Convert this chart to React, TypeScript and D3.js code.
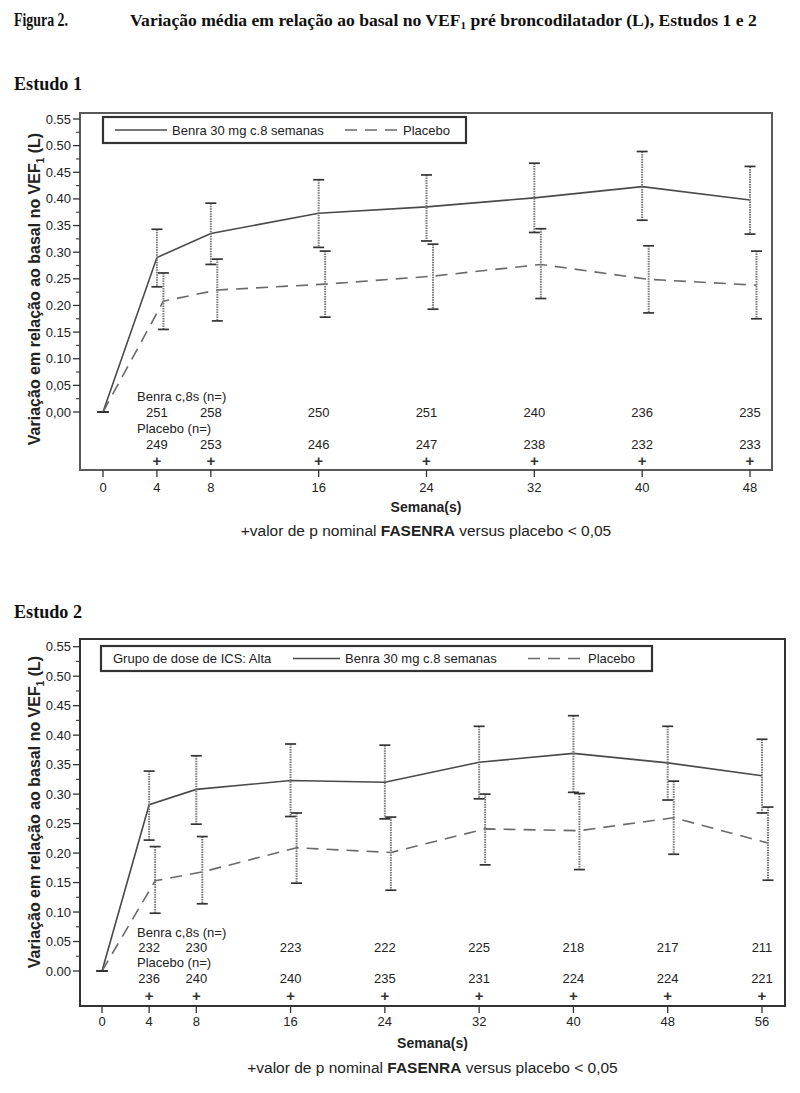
import React from 'react';
import * as d3 from 'd3';

// ---------- DATA ----------
const weeks1 = [0, 4, 8, 16, 24, 32, 40, 48];
const benra1Mean = [0, 0.29, 0.335, 0.373, 0.385, 0.402, 0.423, 0.398];
const benra1Lo = [0, 0.235, 0.277, 0.309, 0.321, 0.337, 0.36, 0.334];
const benra1Hi = [0, 0.343, 0.392, 0.436, 0.445, 0.467, 0.489, 0.461];
const placebo1Mean = [0, 0.208, 0.229, 0.24, 0.255, 0.277, 0.249, 0.238];
const placebo1Lo = [0, 0.155, 0.171, 0.178, 0.193, 0.213, 0.186, 0.175];
const placebo1Hi = [0, 0.261, 0.287, 0.302, 0.315, 0.344, 0.312, 0.302];
const nBenra1 = ['251', '258', '250', '251', '240', '236', '235'];
const nPlacebo1 = ['249', '253', '246', '247', '238', '232', '233'];
const yTickLabels1 = ['0,00', '0,05', '0.10', '0.15', '0.20', '0.25', '0.30', '0.35', '0.40', '0.45', '0.50', '0.55'];

const weeks2 = [0, 4, 8, 16, 24, 32, 40, 48, 56];
const benra2Mean = [0, 0.282, 0.308, 0.323, 0.32, 0.354, 0.369, 0.353, 0.331];
const benra2Lo = [0, 0.222, 0.249, 0.262, 0.258, 0.292, 0.303, 0.29, 0.268];
const benra2Hi = [0, 0.339, 0.365, 0.385, 0.383, 0.415, 0.433, 0.415, 0.393];
const placebo2Mean = [0, 0.153, 0.168, 0.209, 0.201, 0.241, 0.238, 0.26, 0.217];
const placebo2Lo = [0, 0.098, 0.114, 0.149, 0.137, 0.18, 0.172, 0.198, 0.154];
const placebo2Hi = [0, 0.211, 0.228, 0.268, 0.261, 0.3, 0.301, 0.322, 0.278];
const nBenra2 = ['232', '230', '223', '222', '225', '218', '217', '211'];
const nPlacebo2 = ['236', '240', '240', '235', '231', '224', '224', '221'];
const yTickLabels2 = ['0.00', '0.05', '0.10', '0.15', '0.20', '0.25', '0.30', '0.35', '0.40', '0.45', '0.50', '0.55'];

const yTickValues = [0, 0.05, 0.1, 0.15, 0.2, 0.25, 0.3, 0.35, 0.4, 0.45, 0.5, 0.55];
const yMinorValues = [0.025, 0.075, 0.125, 0.175, 0.225, 0.275, 0.325, 0.375, 0.425, 0.475, 0.525];

const labelBenraN = 'Benra c,8s (n=)';
const labelPlaceboN = 'Placebo (n=)';
const legendBenra = 'Benra 30 mg c.8 semanas';
const legendPlacebo = 'Placebo';
const legendGroup = 'Grupo de dose de ICS: Alta';

// ---------- STYLE ----------
const SANS = "'Liberation Sans', Arial, Helvetica, sans-serif";
const SERIF = "'Liberation Serif', 'Times New Roman', serif";
const INK = '#222';

type Layout = {
  frame: { l: number; r: number; t: number; b: number };
  xRange: [number, number];
  yRange: [number, number];
  frameColor: string;
  dodge: number;
  rows: number[];
  xLabelY: number;
  semanaY: number;
  footY: number;
  yTitleX: number;
  yTitleY: number;
  legend: {
    box: [number, number, number, number];
    textY: number;
    group?: number;
    solid: [number, number];
    solidText: number;
    dashed: [number, number];
    dashedText: number;
  };
};

type PanelProps = {
  weeks: number[];
  bMean: number[];
  bLo: number[];
  bHi: number[];
  pMean: number[];
  pLo: number[];
  pHi: number[];
  nB: string[];
  nP: string[];
  yLabels: string[];
  L: Layout;
};

function Panel({ weeks, bMean, bLo, bHi, pMean, pLo, pHi, nB, nP, yLabels, L }: PanelProps) {
  const x = d3.scaleLinear().domain([0, weeks[weeks.length - 1]]).range(L.xRange);
  const y = d3.scaleLinear().domain([0, 0.55]).range(L.yRange);
  const px = (w: number) => x(w) + (w === 0 ? 0 : L.dodge);
  const line = d3.line<[number, number]>().x((d) => d[0]).y((d) => d[1]);
  const bPts: [number, number][] = weeks.map((w, i) => [x(w), y(bMean[i])]);
  const pPts: [number, number][] = weeks.map((w, i) => [px(w), y(pMean[i])]);
  const { frame: F } = L;
  const cap = 5.5;

  const errBar = (xx: number, lo: number, hi: number, key: string) => (
    <g key={key}>
      <line x1={xx} x2={xx} y1={y(hi)} y2={y(lo)} stroke="#777" strokeWidth={2} strokeDasharray="1.5,1" />
      <line x1={xx - cap} x2={xx + cap} y1={y(hi)} y2={y(hi)} stroke="#333" strokeWidth={1.7} />
      <line x1={xx - cap} x2={xx + cap} y1={y(lo)} y2={y(lo)} stroke="#333" strokeWidth={1.7} />
    </g>
  );

  const lg = L.legend;
  const legendMid = lg.box[1] + lg.box[3] / 2;

  return (
    <g>
      {/* frame */}
      <rect x={F.l} y={F.t} width={F.r - F.l} height={F.b - F.t} fill="none" stroke={L.frameColor} strokeWidth={2} />
      {/* y ticks */}
      {yTickValues.map((v, i) => (
        <g key={'yt' + i}>
          <line x1={F.l - 7} x2={F.l} y1={y(v)} y2={y(v)} stroke="#333" strokeWidth={1.3} />
          <text x={F.l - 9} y={y(v) + 4.5} fontSize={13} textAnchor="end" fill={INK} fontFamily={SANS}>
            {yLabels[i]}
          </text>
        </g>
      ))}
      {yMinorValues.map((v, i) => (
        <line key={'ym' + i} x1={F.l - 4} x2={F.l} y1={y(v)} y2={y(v)} stroke="#444" strokeWidth={1.2} />
      ))}
      {/* x ticks */}
      {weeks.map((w) => (
        <g key={'xt' + w}>
          <line x1={x(w)} x2={x(w)} y1={F.b} y2={F.b + 7} stroke="#333" strokeWidth={1.3} />
          <text x={x(w)} y={L.xLabelY} fontSize={13} textAnchor="middle" fill={INK} fontFamily={SANS}>
            {w}
          </text>
        </g>
      ))}
      {/* lines */}
      <path d={line(bPts) || ''} fill="none" stroke="#4a4a4a" strokeWidth={1.6} />
      <path d={line(pPts) || ''} fill="none" stroke="#6a6a6a" strokeWidth={1.6} strokeDasharray="12,8" />
      {/* error bars */}
      {weeks.map((w, i) => errBar(x(w), bLo[i], bHi[i], 'eb' + i))}
      {weeks.map((w, i) => errBar(px(w), pLo[i], pHi[i], 'ep' + i))}
      {/* n table */}
      <text x={137} y={L.rows[0]} fontSize={13} fill={INK} fontFamily={SANS}>{labelBenraN}</text>
      <text x={137} y={L.rows[2]} fontSize={13} fill={INK} fontFamily={SANS}>{labelPlaceboN}</text>
      {weeks.slice(1).map((w, i) => (
        <g key={'n' + w}>
          <text x={x(w)} y={L.rows[1]} fontSize={13} textAnchor="middle" fill={INK} fontFamily={SANS}>{nB[i]}</text>
          <text x={x(w)} y={L.rows[3]} fontSize={13} textAnchor="middle" fill={INK} fontFamily={SANS}>{nP[i]}</text>
          <text x={x(w)} y={L.rows[4]} fontSize={15} fontWeight="bold" textAnchor="middle" fill="#333" fontFamily={SANS}>+</text>
        </g>
      ))}
      {/* legend */}
      <rect x={lg.box[0]} y={lg.box[1]} width={lg.box[2]} height={lg.box[3]} fill="#fff" stroke="#333" strokeWidth={2.2} />
      {lg.group !== undefined && (
        <text x={lg.group} y={lg.textY} fontSize={13} fill={INK} fontFamily={SANS}>{legendGroup}</text>
      )}
      <line x1={lg.solid[0]} x2={lg.solid[1]} y1={legendMid} y2={legendMid} stroke="#4a4a4a" strokeWidth={1.6} />
      <text x={lg.solidText} y={lg.textY} fontSize={13} fill={INK} fontFamily={SANS}>{legendBenra}</text>
      <line x1={lg.dashed[0]} x2={lg.dashed[1]} y1={legendMid} y2={legendMid} stroke="#6a6a6a" strokeWidth={1.6} strokeDasharray="12,8" />
      <text x={lg.dashedText} y={lg.textY} fontSize={13} fill={INK} fontFamily={SANS}>{legendPlacebo}</text>
      {/* axis titles */}
      <text
        transform={`translate(${L.yTitleX},${L.yTitleY}) rotate(-90)`}
        textAnchor="middle"
        fontSize={16}
        fontWeight="bold"
        fill={INK}
        fontFamily={SANS}
      >
        Variação em relação ao basal no VEF
        <tspan fontSize={10} dy={4}>1</tspan>
        <tspan dy={-4}> (L)</tspan>
      </text>
      <text x={(F.l + F.r) / 2} y={L.semanaY} textAnchor="middle" fontSize={14} fontWeight="bold" fill={INK} fontFamily={SANS}>
        Semana(s)
      </text>
      <text x={(F.l + F.r) / 2} y={L.footY} textAnchor="middle" fontSize={15.5} fill={INK} fontFamily={SANS}>
        +valor de p nominal <tspan fontWeight="bold">FASENRA</tspan> versus placebo &lt; 0,05
      </text>
    </g>
  );
}

const layout1: Layout = {
  frame: { l: 80, r: 772, t: 113, b: 470 },
  xRange: [103, 750],
  yRange: [412, 119],
  frameColor: '#5a5a5a',
  dodge: 6.5,
  rows: [401, 417, 433, 449, 466],
  xLabelY: 492,
  semanaY: 512,
  footY: 536,
  yTitleX: 40,
  yTitleY: 289,
  legend: {
    box: [103, 117, 363, 26],
    textY: 135,
    solid: [115, 167],
    solidText: 172,
    dashed: [345, 400],
    dashedText: 403,
  },
};

const layout2: Layout = {
  frame: { l: 80, r: 785, t: 639, b: 1006 },
  xRange: [102, 762],
  yRange: [971, 646.7],
  frameColor: '#333',
  dodge: 6,
  rows: [937, 952, 967, 983, 1001],
  xLabelY: 1026,
  semanaY: 1048,
  footY: 1073,
  yTitleX: 40,
  yTitleY: 812,
  legend: {
    box: [101, 646, 551, 25],
    textY: 663,
    group: 113,
    solid: [293, 340],
    solidText: 345,
    dashed: [528, 583],
    dashedText: 588,
  },
};

export default function App() {
  return (
    <svg
      width={800}
      height={1093}
      viewBox="0 0 800 1093"
      style={{ position: 'absolute', left: 0, top: 0, background: '#fff' }}
    >
      <rect x={0} y={0} width={800} height={1093} fill="#fff" />
      <text x={14} y={26} fontFamily={SERIF} fontWeight="bold" fontSize={18.5} fill="#111" textLength={54} lengthAdjust="spacingAndGlyphs">
        Figura 2.
      </text>
      <text x={130} y={26} fontFamily={SERIF} fontWeight="bold" fontSize={17.6} fill="#111">
        Variação média em relação ao basal no VEF<tspan fontSize={11} dy={3}>1</tspan>
        <tspan dy={-3}> pré broncodilatador (L), Estudos 1 e 2</tspan>
      </text>
      <text x={14} y={90} fontFamily={SERIF} fontWeight="bold" fontSize={18} fill="#111" textLength={68} lengthAdjust="spacingAndGlyphs">Estudo 1</text>
      <text x={14} y={618} fontFamily={SERIF} fontWeight="bold" fontSize={18} fill="#111" textLength={68} lengthAdjust="spacingAndGlyphs">Estudo 2</text>
      <Panel
        weeks={weeks1}
        bMean={benra1Mean}
        bLo={benra1Lo}
        bHi={benra1Hi}
        pMean={placebo1Mean}
        pLo={placebo1Lo}
        pHi={placebo1Hi}
        nB={nBenra1}
        nP={nPlacebo1}
        yLabels={yTickLabels1}
        L={layout1}
      />
      <Panel
        weeks={weeks2}
        bMean={benra2Mean}
        bLo={benra2Lo}
        bHi={benra2Hi}
        pMean={placebo2Mean}
        pLo={placebo2Lo}
        pHi={placebo2Hi}
        nB={nBenra2}
        nP={nPlacebo2}
        yLabels={yTickLabels2}
        L={layout2}
      />
    </svg>
  );
}
